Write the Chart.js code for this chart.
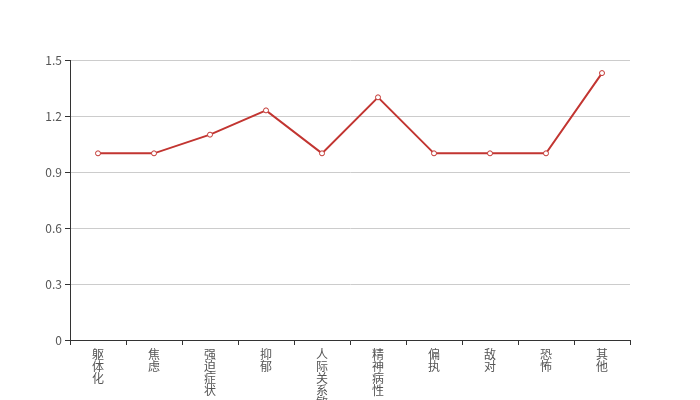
<!DOCTYPE html>
<html>
<head>
<meta charset="utf-8">
<script src="https://cdn.jsdelivr.net/npm/chart.js@4.4.1/dist/chart.umd.min.js"></script>
<style>
  html, body { margin: 0; padding: 0; background: #fff; }
  #wrap { width: 700px; height: 400px; }
</style>
</head>
<body>
<div id="wrap"><canvas id="line_chart"></canvas></div>
<script>
var categories = ["躯体化", "焦虑", "强迫症状", "抑郁", "人际关系敏感",
                  "精神病性", "偏执", "敌对", "恐怖", "其他"];
var values = [1, 1, 1.1, 1.23, 1, 1.3, 1, 1, 1, 1.43];
var yTicks = [0, 0.3, 0.6, 0.9, 1.2, 1.5];

// one character per line, so the labels run downwards
var labels = categories.map(function(c){ return c.split(""); });

new Chart(document.getElementById("line_chart"), {
    type: "line",
    data: {
        labels: labels,
        datasets: [{
            data: values,
            borderColor: "#c23531",
            borderWidth: 2,
            pointBackgroundColor: "#fff",
            pointBorderColor: "#c23531",
            pointBorderWidth: 1,
            pointRadius: 2.5,
            tension: 0,
            fill: false
        }]
    },
    options: {
        responsive: true,
        maintainAspectRatio: false,
        animation: false,
        layout: {
            padding: { left: 0, right: 70, top: 60, bottom: 0 }
        },
        plugins: {
            legend: { display: false },
            tooltip: { enabled: false }
        },
        scales: {
            x: {
                type: "category",
                offset: true,
                afterFit: function(scale){ scale.height = 60; },
                border: { color: "#333", width: 1 },
                grid: {
                    drawOnChartArea: false,
                    offset: true,
                    tickLength: 5,
                    tickColor: "#333"
                },
                ticks: {
                    autoSkip: false,
                    maxRotation: 0,
                    padding: 3,
                    color: "#555",
                    font: { family: "'Noto Sans CJK SC'", size: 12, lineHeight: 1.0 }
                }
            },
            y: {
                min: 0,
                max: 1.5,
                afterFit: function(scale){ scale.width = 70; },
                afterBuildTicks: function(scale){
                    scale.ticks = yTicks.map(function(v){ return { value: v }; });
                },
                border: { color: "#333", width: 1 },
                grid: {
                    color: "#ccc",
                    tickLength: 5,
                    tickColor: "#333"
                },
                ticks: {
                    padding: 3,
                    color: "#555",
                    font: { family: "'Noto Sans CJK SC'", size: 12 },
                    callback: function(v){ return String(Math.round(v * 10) / 10); }
                }
            }
        }
    }
});
</script>
</body>
</html>
